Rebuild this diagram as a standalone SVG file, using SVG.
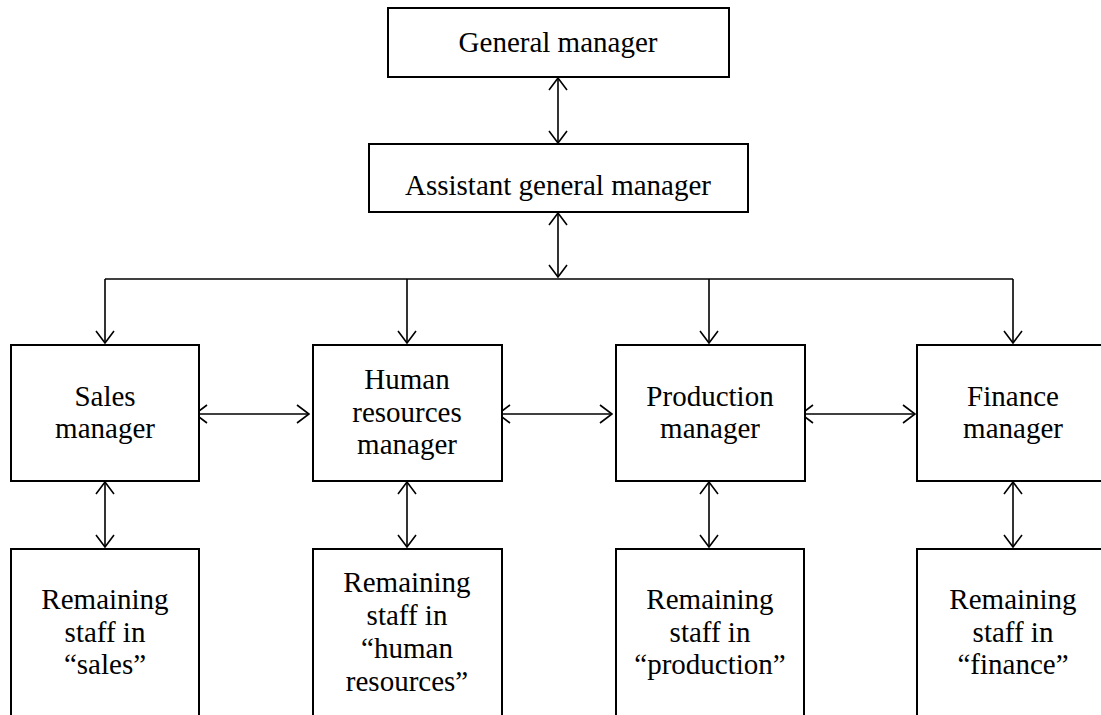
<svg xmlns="http://www.w3.org/2000/svg" width="1101" height="715" viewBox="0 0 1101 715">
<style>
.box{fill:#fff;stroke:#000;stroke-width:2}
.t{font-family:'Liberation Serif','Times New Roman','DejaVu Serif',serif;font-size:29px;fill:#000;text-anchor:middle}
.c{fill:none;stroke:#000;stroke-width:1.6}
.a{marker-start:url(#h);marker-end:url(#h)}
.e{marker-end:url(#h)}
</style>
<defs>
<marker id="h" viewBox="0 0 14 20" refX="13" refY="10" markerWidth="14" markerHeight="20" markerUnits="userSpaceOnUse" orient="auto-start-reverse">
<path d="M1,1 L13,10 L1,19" fill="none" stroke="#000" stroke-width="1.6"/>
</marker>
</defs>
<g id="connectors">
<line class="c a" x1="558" y1="78" x2="558" y2="143"/>
<line class="c a" x1="558" y1="213" x2="558" y2="277"/>
<polyline class="c" points="105,279 1013,279"/>
<line class="c e" x1="105" y1="279" x2="105" y2="343"/>
<line class="c e" x1="407" y1="279" x2="407" y2="343"/>
<line class="c e" x1="709" y1="279" x2="709" y2="343"/>
<line class="c e" x1="1013" y1="279" x2="1013" y2="343"/>
<line class="c a" x1="195" y1="414" x2="309" y2="414"/>
<line class="c a" x1="498" y1="414" x2="612" y2="414"/>
<line class="c a" x1="801" y1="414" x2="915" y2="414"/>
<line class="c a" x1="105" y1="482" x2="105" y2="547"/>
<line class="c a" x1="407" y1="482" x2="407" y2="547"/>
<line class="c a" x1="709" y1="482" x2="709" y2="547"/>
<line class="c a" x1="1013" y1="482" x2="1013" y2="547"/>
</g>
<g id="gm">
<rect class="box" x="388" y="8" width="341" height="69"/>
<text class="t" x="558" y="52" font-family="Liberation Serif, serif">General manager</text>
</g>
<g id="agm">
<rect class="box" x="369" y="144" width="379" height="68"/>
<text class="t" x="558" y="195" font-family="Liberation Serif, serif">Assistant general manager</text>
</g>
<g id="sales">
<rect class="box" x="11" y="345" width="188" height="136"/>
<text class="t" x="105" y="406">Sales</text>
<text class="t" x="105" y="438">manager</text>
</g>
<g id="hr">
<rect class="box" x="313" y="345" width="189" height="136"/>
<text class="t" x="407" y="389">Human</text>
<text class="t" x="407" y="422">resources</text>
<text class="t" x="407" y="454">manager</text>
</g>
<g id="production">
<rect class="box" x="616" y="345" width="189" height="136"/>
<text class="t" x="710" y="406">Production</text>
<text class="t" x="710" y="438">manager</text>
</g>
<g id="finance">
<rect class="box" x="917" y="345" width="190" height="136"/>
<text class="t" x="1013" y="406">Finance</text>
<text class="t" x="1013" y="438">manager</text>
</g>
<g id="staff-sales">
<rect class="box" x="11" y="549" width="188" height="180"/>
<text class="t" x="105" y="609">Remaining</text>
<text class="t" x="105" y="642">staff in</text>
<text class="t" x="105" y="674">“sales”</text>
</g>
<g id="staff-hr">
<rect class="box" x="313" y="549" width="189" height="180"/>
<text class="t" x="407" y="592">Remaining</text>
<text class="t" x="407" y="625">staff in</text>
<text class="t" x="407" y="658">“human</text>
<text class="t" x="407" y="691">resources”</text>
</g>
<g id="staff-production">
<rect class="box" x="616" y="549" width="188" height="180"/>
<text class="t" x="710" y="609">Remaining</text>
<text class="t" x="710" y="642">staff in</text>
<text class="t" x="710" y="674">“production”</text>
</g>
<g id="staff-finance">
<rect class="box" x="917" y="549" width="190" height="180"/>
<text class="t" x="1013" y="609">Remaining</text>
<text class="t" x="1013" y="642">staff in</text>
<text class="t" x="1013" y="674">“finance”</text>
</g>
</svg>
